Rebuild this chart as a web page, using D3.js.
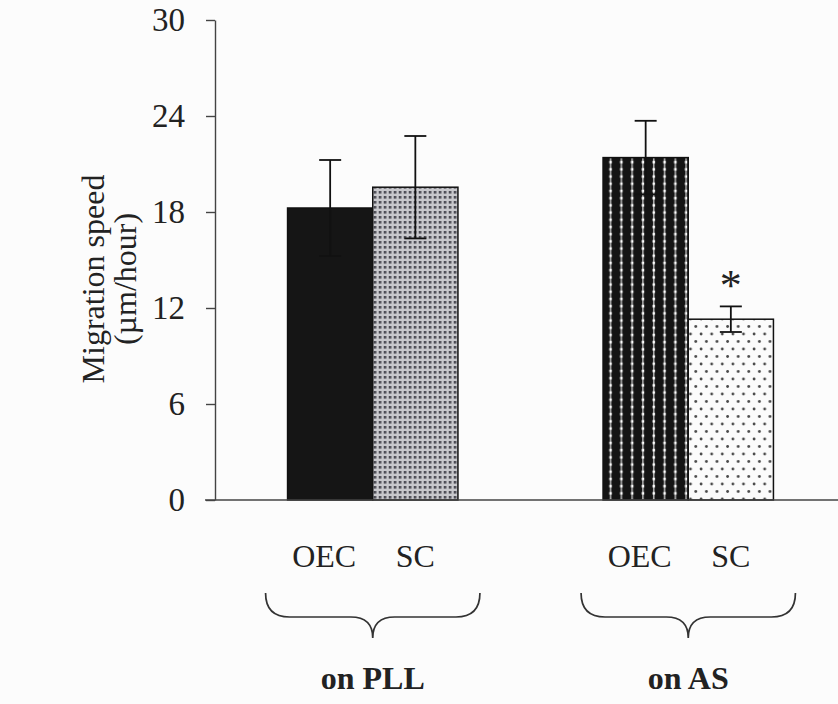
<!DOCTYPE html>
<html>
<head>
<meta charset="utf-8">
<script src="https://cdn.jsdelivr.net/npm/d3@7"></script>
<style>
  html, body { margin: 0; padding: 0; background: #fcfcfc; }
  svg { display: block; }
  text { font-family: "Liberation Serif", "Times New Roman", serif; fill: #222; }
</style>
</head>
<body>
<div id="chart"></div>
<script>
// data
const groups = ['on PLL', 'on AS'];
const cells = ['OEC', 'SC'];
const speedPLL = [18.25, 19.55];
const errPLL = [3.0, 3.2];
const speedAS = [21.4, 11.3];
const errAS = [2.3, 0.8];
const significant = [[false, false], [false, true]];
const yTicks = [0, 6, 12, 18, 24, 30];

const width = 838, height = 704;

const rows = [];
[speedPLL, speedAS].forEach((vals, gi) => {
  const errs = gi === 0 ? errPLL : errAS;
  vals.forEach((v, ci) => {
    rows.push({ group: groups[gi], cell: cells[ci], value: v, err: errs[ci], sig: significant[gi][ci], key: gi + '-' + ci });
  });
});

const svg = d3.select('#chart').append('svg')
  .attr('width', width)
  .attr('height', height);

svg.append('rect').attr('width', width).attr('height', height).attr('fill', '#fcfcfc');

const y = d3.scaleLinear().domain([0, 30]).range([500, 20]);
const xGroup = d3.scaleBand().domain(groups).range([215, 846]).paddingInner(0.46).paddingOuter(0.23);
const xCell = d3.scaleBand().domain(cells).range([0, xGroup.bandwidth()]);

// fill patterns
const defs = svg.append('defs');

// PLL SC : grey with dense dark dots
let p = defs.append('pattern').attr('id', 'p-0-1').attr('patternUnits', 'userSpaceOnUse')
  .attr('width', 5).attr('height', 5);
p.append('rect').attr('width', 5).attr('height', 5).attr('fill', '#c8c8cc');
p.append('rect').attr('x', 1).attr('y', 1).attr('width', 2.6).attr('height', 2.6).attr('fill', '#4a4a52');

// AS OEC : black with white vertical dotted lines
p = defs.append('pattern').attr('id', 'p-1-0').attr('patternUnits', 'userSpaceOnUse')
  .attr('x', xGroup('on AS') + 3.5).attr('y', 0)
  .attr('width', 10.8).attr('height', 7.2);
p.append('rect').attr('width', 10.8).attr('height', 7.2).attr('fill', '#141414');
p.append('rect').attr('x', 5.2).attr('y', 0).attr('width', 1.1).attr('height', 7.2).attr('fill', '#f4f4f4');
p.append('rect').attr('x', 4.5).attr('y', 2.5).attr('width', 2.5).attr('height', 2.5).attr('fill', '#ffffff');

// AS SC : white with sparse dots
p = defs.append('pattern').attr('id', 'p-1-1').attr('patternUnits', 'userSpaceOnUse')
  .attr('x', xGroup('on AS') + xCell('SC')).attr('y', 0)
  .attr('width', 10.6).attr('height', 15);
p.append('rect').attr('width', 10.6).attr('height', 15).attr('fill', '#fbfbfb');
p.append('circle').attr('cx', 3).attr('cy', 4).attr('r', 1.4).attr('fill', '#4a4a4a');
p.append('circle').attr('cx', 8.3).attr('cy', 11.5).attr('r', 1.4).attr('fill', '#4a4a4a');

const fillFor = d => d.key === '0-0' ? '#151515' : `url(#p-${d.key})`;

// axis
const yAxis = svg.append('g')
  .attr('transform', 'translate(215,0)')
  .call(d3.axisLeft(y).tickValues(yTicks).tickSize(9).tickSizeOuter(0).tickPadding(21));
yAxis.select('.domain').attr('stroke', '#444').attr('stroke-width', 1.4);
yAxis.selectAll('.tick line').attr('stroke', '#444').attr('stroke-width', 1.4);
yAxis.selectAll('.tick text')
  .style('font-family', '"Liberation Serif", serif')
  .style('font-size', '33px')
  .attr('fill', '#222');

// bars
const bars = svg.append('g').selectAll('g')
  .data(rows)
  .join('g')
  .attr('transform', d => `translate(${xGroup(d.group) + xCell(d.cell)},0)`);

bars.append('rect')
  .attr('x', 0)
  .attr('y', d => y(d.value))
  .attr('width', xCell.bandwidth())
  .attr('height', d => y(0) - y(d.value))
  .attr('fill', fillFor)
  .attr('stroke', '#111')
  .attr('stroke-width', 1.5);

// error bars
const cx = xCell.bandwidth() / 2;
bars.append('line')
  .attr('x1', cx).attr('x2', cx)
  .attr('y1', d => y(d.value - d.err))
  .attr('y2', d => y(d.value + d.err))
  .attr('stroke', '#111').attr('stroke-width', 1.8);
bars.append('line')
  .attr('x1', cx - 11).attr('x2', cx + 11)
  .attr('y1', d => y(d.value + d.err))
  .attr('y2', d => y(d.value + d.err))
  .attr('stroke', '#111').attr('stroke-width', 1.8);
bars.append('line')
  .attr('x1', cx - 11).attr('x2', cx + 11)
  .attr('y1', d => y(d.value - d.err))
  .attr('y2', d => y(d.value - d.err))
  .attr('stroke', '#111').attr('stroke-width', 1.8);

// significance marker
bars.filter(d => d.sig).append('text')
  .attr('x', cx)
  .attr('y', d => y(d.value + d.err) - 6)
  .attr('text-anchor', 'middle')
  .style('font-size', '44px')
  .text('*');

// baseline
svg.append('line')
  .attr('x1', 205).attr('x2', width)
  .attr('y1', y(0)).attr('y2', y(0))
  .attr('stroke', '#444').attr('stroke-width', 1.4);

// cell labels
bars.append('text')
  .attr('x', d => d.cell === 'OEC' ? cx - 6 : cx)
  .attr('y', 567)
  .attr('text-anchor', 'middle')
  .style('font-size', '32px')
  .text(d => d.cell);

// braces and group labels
const braceG = svg.append('g').selectAll('g')
  .data(groups)
  .join('g');

braceG.append('path')
  .attr('fill', 'none')
  .attr('stroke', '#333')
  .attr('stroke-width', 1.7)
  .attr('d', g => {
    const L = xGroup(g) - 22, R = xGroup(g) + xGroup.bandwidth() + 22;
    const C = xGroup(g) + xGroup.bandwidth() / 2;
    const T = 593, M = 617, P = 638;
    return `M${L},${T} Q${L},${M} ${L + 24},${M} L${C - 22},${M} Q${C},${M} ${C},${P}` +
      ` Q${C},${M} ${C + 22},${M} L${R - 24},${M} Q${R},${M} ${R},${T}`;
  });

braceG.append('text')
  .attr('x', g => xGroup(g) + xGroup.bandwidth() / 2)
  .attr('y', 689)
  .attr('text-anchor', 'middle')
  .style('font-size', '32px')
  .style('font-weight', 'bold')
  .text(g => g);

// y axis title
const title = svg.append('text')
  .attr('transform', 'translate(0,279) rotate(-90)')
  .attr('text-anchor', 'middle')
  .style('font-size', '32px');
title.append('tspan').attr('x', 0).attr('y', 104).text('Migration speed');
title.append('tspan').attr('x', 0).attr('y', 136).text('(µm/hour)');
</script>
</body>
</html>
